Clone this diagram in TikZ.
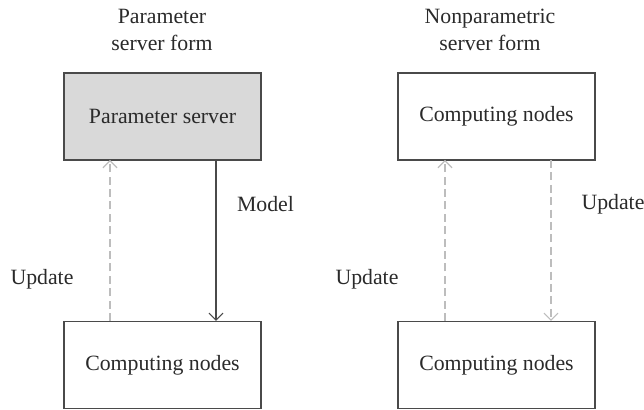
\documentclass[tikz,border=0pt]{standalone}
\usepackage{fontspec}
\setmainfont{Liberation Serif}
\usetikzlibrary{arrows.meta}
\definecolor{boxline}{HTML}{4A4A4A}
\definecolor{boxfill}{HTML}{D9D9D9}
\definecolor{dashcol}{HTML}{BDBDBD}
\definecolor{txt}{HTML}{2A2A2A}
\tikzset{
  px/.style={x=0.5pt,y=-0.5pt},
  box/.style={draw=boxline,text=txt,line width=0.6pt,minimum width=98.5pt,minimum height=43.5pt,inner sep=0pt,font=\fontsize{10.9}{13.5}\selectfont},
  serverbox/.style={box,fill=boxfill},
  solidarrow/.style={draw=boxline,line width=0.6pt,-{Straight Barb[length=3.5pt,width=7pt]}},
  dasharrow/.style={draw=dashcol,line width=0.6pt,dash pattern=on 4pt off 2.2pt,-{Straight Barb[length=3.5pt,width=7pt]}},
  lbl/.style={text=txt,font=\fontsize{10.9}{13.5}\selectfont,inner sep=0pt},
  ttl/.style={text=txt,font=\fontsize{10.9}{13.5}\selectfont,align=center,inner sep=0pt}
}
\begin{document}
\begin{tikzpicture}[px]
\useasboundingbox (0,0) rectangle (644,410);
% left column
\node[serverbox] (ps) at (162.5,116.5) {Parameter server};
\node[box] (cn1) at (162.5,365) {Computing nodes};
\node[ttl] (t1) at (162,29.5) {Parameter\\server form};
\coordinate (u1s) at (110,321);
\coordinate (u1e) at (110,160);
\coordinate (m1s) at (216,160);
\coordinate (m1e) at (216,321);
\draw[dasharrow] (u1s) -- (u1e);
\draw[solidarrow] (m1s) -- (m1e);
\node[lbl] (model) at (265.5,204) {Model};
\node[lbl] (upd1) at (42,279) {Update};
% right column
\node[box] (cn2) at (496.5,116.5) {Computing nodes};
\node[box] (cn3) at (496.5,365) {Computing nodes};
\node[ttl] (t2) at (490,29.5) {Nonparametric\\server form};
\coordinate (u2s) at (445,321);
\coordinate (u2e) at (445,160);
\coordinate (d2s) at (551,160);
\coordinate (d2e) at (551,321);
\draw[dasharrow] (u2s) -- (u2e);
\draw[dasharrow] (d2s) -- (d2e);
\node[lbl] (upd2) at (613,204) {Update};
\node[lbl] (upd3) at (367,279) {Update};
\end{tikzpicture}
\end{document}
